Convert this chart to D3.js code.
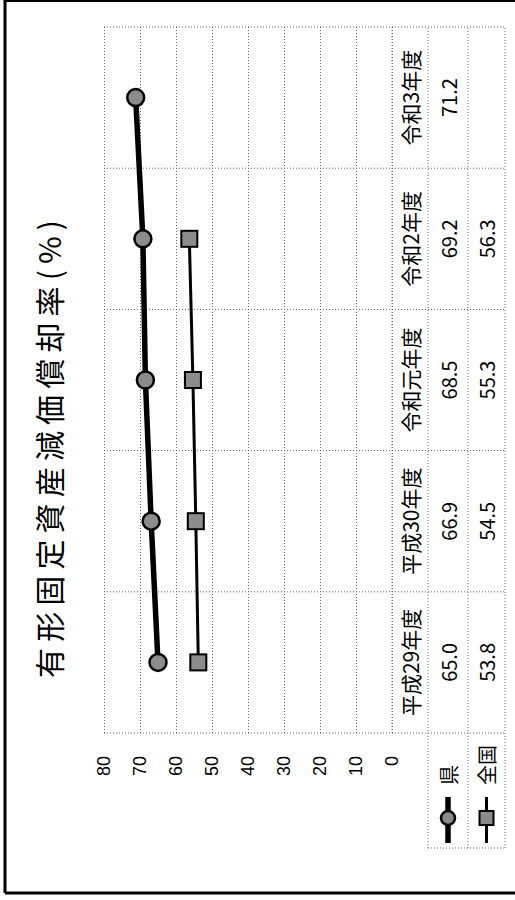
<!DOCTYPE html>
<html>
<head>
<meta charset="utf-8">
<script src="https://cdn.jsdelivr.net/npm/d3@7"></script>
<style>
  body { margin: 0; background: #fff; }
  svg { display: block; font-family: "Noto Sans CJK JP", "Noto Sans", sans-serif; }
  .grid line { stroke: #666; stroke-dasharray: 1,2; }
  .grid path { display: none; }
</style>
</head>
<body>
<div id="chart"></div>
<script>
// data
const categories = ["平成29年度", "平成30年度", "令和元年度", "令和2年度", "令和3年度"];
const prefValues = [65.0, 66.9, 68.5, 69.2, 71.2];
const nationalValues = [53.8, 54.5, 55.3, 56.3, null];
const yTicks = [0, 10, 20, 30, 40, 50, 60, 70, 80];
const seriesNames = ["県", "全国"];

const svgWidth = 515;
const svgHeight = 900;

const svg = d3.select("#chart").append("svg")
  .attr("width", svgWidth)
  .attr("height", svgHeight);

// outer frame (screen coords)
svg.append("line").attr("x1", 5).attr("y1", 0).attr("x2", 5).attr("y2", 893)
  .attr("stroke", "#000").attr("stroke-width", 3);
svg.append("line").attr("x1", 5).attr("y1", 1).attr("x2", 515).attr("y2", 1)
  .attr("stroke", "#000").attr("stroke-width", 2);
svg.append("line").attr("x1", 5).attr("y1", 893).attr("x2", 515).attr("y2", 893)
  .attr("stroke", "#000").attr("stroke-width", 3);

// whole chart is turned a quarter left
const g = svg.append("g")
  .attr("transform", `translate(0, ${svgHeight}) rotate(-90)`);

const xScale = d3.scaleBand()
  .domain(categories)
  .range([167, 873]);

const yScale = d3.scaleLinear()
  .domain([0, 80])
  .range([392, 104]);

const tableRows = [392, 428, 468, 505];
const dotted = sel => sel.attr("stroke", "#666").attr("stroke-dasharray", "1,2").attr("fill", "none");

// value gridlines
g.append("g")
  .attr("class", "grid")
  .attr("transform", `translate(${xScale.range()[0]}, 0)`)
  .call(d3.axisLeft(yScale).tickValues(yTicks).tickSize(-(xScale.range()[1] - xScale.range()[0])).tickFormat(""));

// value labels
const yAxis = g.append("g")
  .attr("transform", `translate(${xScale.range()[0]}, 0)`)
  .call(d3.axisLeft(yScale).tickValues(yTicks).tickSize(0).tickPadding(23));
yAxis.select(".domain").remove();
yAxis.selectAll("text")
  .attr("font-size", 18)
  .attr("fill", "#000")
  .attr("font-family", "'Liberation Sans', sans-serif");

// category boundaries down through the data table
const bounds = categories.map(c => xScale(c)).concat([xScale.range()[1]]);
g.selectAll(".catline")
  .data(bounds)
  .enter()
  .append("line")
  .attr("x1", d => d).attr("x2", d => d)
  .attr("y1", yScale(80)).attr("y2", tableRows[3])
  .call(dotted);

// table rows
g.selectAll(".rowline")
  .data(tableRows.slice(1))
  .enter()
  .append("line")
  .attr("x1", 52)
  .attr("x2", xScale.range()[1])
  .attr("y1", d => d).attr("y2", d => d)
  .call(dotted);
g.append("line")
  .attr("x1", xScale.range()[0]).attr("x2", xScale.range()[1])
  .attr("y1", tableRows[0]).attr("y2", tableRows[0])
  .call(dotted);

// legend cell
g.append("line").attr("x1", 52).attr("x2", 52).attr("y1", tableRows[1]).attr("y2", tableRows[3]).call(dotted);

// category labels in table
g.selectAll(".catlabel")
  .data(categories)
  .enter()
  .append("text")
  .attr("x", d => xScale(d) + xScale.bandwidth() / 2)
  .attr("y", (tableRows[0] + tableRows[1]) / 2)
  .attr("text-anchor", "middle")
  .attr("dominant-baseline", "central")
  .attr("font-size", 21)
  .text(d => d);

// value cells
const cellRows = [prefValues, nationalValues];
cellRows.forEach(function(vals, r) {
  g.selectAll(".val" + r)
    .data(categories.map((c, i) => ({ c: c, v: vals[i] })).filter(d => d.v !== null))
    .enter()
    .append("text")
    .attr("x", d => xScale(d.c) + xScale.bandwidth() / 2)
    .attr("y", (tableRows[r + 1] + tableRows[r + 2]) / 2)
    .attr("text-anchor", "middle")
    .attr("dominant-baseline", "central")
    .attr("font-size", 20)
    .text(d => d.v.toFixed(1));
});

// series lines
const line = d3.line()
  .defined(d => d.v !== null)
  .x(d => xScale(d.c) + xScale.bandwidth() / 2)
  .y(d => yScale(d.v));

const prefData = categories.map((c, i) => ({ c: c, v: prefValues[i] }));
const natData = categories.map((c, i) => ({ c: c, v: nationalValues[i] }));

g.append("path").datum(natData).attr("d", line)
  .attr("fill", "none").attr("stroke", "#000").attr("stroke-width", 3);
g.append("path").datum(prefData).attr("d", line)
  .attr("fill", "none").attr("stroke", "#000").attr("stroke-width", 5.5);

g.selectAll(".sq")
  .data(natData.filter(d => d.v !== null))
  .enter()
  .append("rect")
  .attr("x", d => xScale(d.c) + xScale.bandwidth() / 2 - 8)
  .attr("y", d => yScale(d.v) - 8)
  .attr("width", 16).attr("height", 16)
  .attr("fill", "#8c8c8c").attr("stroke", "#000").attr("stroke-width", 2);

g.selectAll(".dot")
  .data(prefData)
  .enter()
  .append("circle")
  .attr("cx", d => xScale(d.c) + xScale.bandwidth() / 2)
  .attr("cy", d => yScale(d.v))
  .attr("r", 8.5)
  .attr("fill", "#8c8c8c").attr("stroke", "#000").attr("stroke-width", 2.5);

// legend keys
seriesNames.forEach(function(name, i) {
  const cy = (tableRows[i + 1] + tableRows[i + 2]) / 2;
  g.append("line").attr("x1", 57).attr("x2", 103).attr("y1", cy).attr("y2", cy)
    .attr("stroke", "#000").attr("stroke-width", i === 0 ? 5.5 : 3);
  if (i === 0) {
    g.append("circle").attr("cx", 82).attr("cy", cy).attr("r", 7)
      .attr("fill", "#8c8c8c").attr("stroke", "#000").attr("stroke-width", 2.5);
  } else {
    g.append("rect").attr("x", 75).attr("y", cy - 7).attr("width", 14).attr("height", 14)
      .attr("fill", "#8c8c8c").attr("stroke", "#000").attr("stroke-width", 2);
  }
  g.append("text")
    .attr("x", 115).attr("y", cy)
    .attr("dominant-baseline", "central")
    .attr("font-size", 20)
    .text(name);
});

// title
g.append("text")
  .attr("x", 222)
  .attr("y", 48)
  .attr("dominant-baseline", "central")
  .attr("font-size", 30)
  .attr("textLength", 458)
  .attr("lengthAdjust", "spacing")
  .text("有形固定資産減価償却率(%)");
</script>
</body>
</html>
